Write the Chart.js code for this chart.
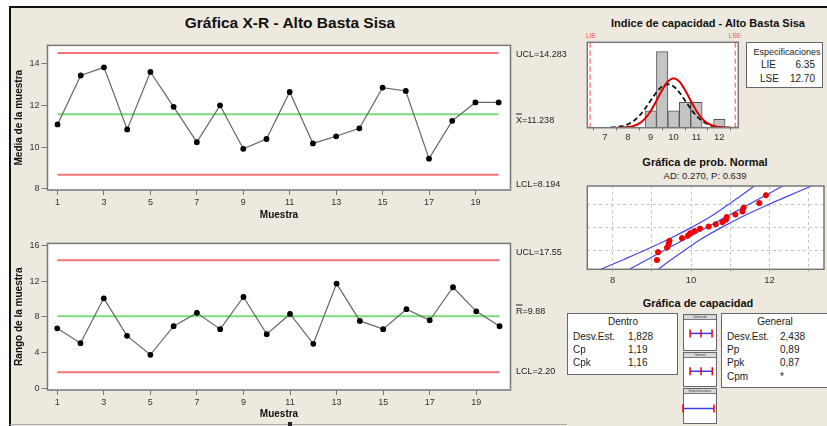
<!DOCTYPE html>
<html><head><meta charset="utf-8">
<script src="https://cdn.jsdelivr.net/npm/chart.js@4.4.1/dist/chart.umd.min.js"></script>
<style>
body{margin:0;background:#fff;width:827px;height:426px;overflow:hidden;position:relative;font-family:"Liberation Sans",Arial,sans-serif;}
#frame{position:absolute;left:9px;top:6px;width:818px;height:420px;background:#EDE9DF;border-top:2px solid #111;border-left:2px solid #111;box-sizing:border-box;}
canvas{position:absolute;}
.t{position:absolute;white-space:nowrap;color:#222;line-height:1;}
.box{position:absolute;background:#fff;border:1px solid #666;box-sizing:border-box;}
.hdr{position:absolute;left:0;top:0;right:0;height:4px;background:#d8d8d8;border-bottom:1px solid #777;font-size:3px;line-height:4px;text-align:center;color:#333;overflow:hidden;}
</style></head>
<body>
<div id="frame"></div>
<canvas id="cx" width="515" height="190" style="left:10px;top:38px"></canvas>
<canvas id="cr" width="515" height="190" style="left:10px;top:236px"></canvas>
<canvas id="ch" width="165" height="105" style="left:580px;top:40px"></canvas>
<canvas id="cp" width="247" height="106" style="left:580px;top:183px"></canvas>
<div class="box" style="left:746px;top:42px;width:77px;height:46px"></div>
<div class="box" style="left:567px;top:313px;width:111px;height:62px"></div>
<div class="box" style="left:721px;top:313px;width:110px;height:75px"></div>
<div class="box" style="left:683px;top:314px;width:34px;height:37px"><div class="hdr">Dentro de</div></div>
<div class="box" style="left:683px;top:352px;width:34px;height:35px"><div class="hdr">General</div></div>
<div class="box" style="left:683px;top:388px;width:34px;height:36px"><div class="hdr">Especificaciones</div></div>
<canvas id="m1" width="36" height="32" style="left:682px;top:319px"></canvas>
<canvas id="m2" width="36" height="30" style="left:682px;top:357px"></canvas>
<canvas id="m3" width="36" height="31" style="left:682px;top:393px"></canvas>
<div style="position:absolute;left:10px;top:424px;width:557px;height:1px;background:#aaa"></div>
<div style="position:absolute;left:288px;top:422px;width:4px;height:4px;background:#222"></div>
<script>
// ---------- data ----------
const samples = [1,2,3,4,5,6,7,8,9,10,11,12,13,14,15,16,17,18,19,20];
const sampleTicks = [1,3,5,7,9,11,13,15,17,19];
const xbarValues = [11.09,13.43,13.82,10.85,13.60,11.93,10.24,12.00,9.92,10.39,12.64,10.18,10.52,10.90,12.85,12.69,9.45,11.26,12.14,12.14];
const xbarTicks = [8,10,12,14];
const xbarLimits = [14.51, 11.58, 8.68]; // UCL, centre, LCL as drawn
const rangeValues = [6.70,5.03,10.06,5.85,3.73,6.94,8.43,6.60,10.21,6.04,8.31,4.96,11.71,7.53,6.60,8.84,7.60,11.30,8.60,6.94];
const rangeTicks = [0,4,8,12,16];
const rangeLimits = [14.32, 8.05, 1.76];

const binCenters = [9,9.5,10,10.5,11,11.5,12];
const binCounts = [2,9,2,3,3,0,1];
const histTicks = [7,8,9,10,11,12];
const specLimits = [6.35, 12.70];
const withinX = [7.5,7.75,8,8.25,8.5,8.75,9,9.25,9.5,9.75,10,10.25,10.5,10.75,11,11.25,11.5,11.75,12,12.25,12.5];
const withinY = [0,0.02,0.08,0.21,0.51,1.08,1.98,3.18,4.46,5.47,5.85,5.47,4.46,3.18,1.98,1.08,0.51,0.21,0.08,0.02,0];
const overallX = [7.25,7.5,7.75,8,8.25,8.5,8.75,9,9.25,9.5,9.75,10,10.25,10.5,10.75,11,11.25,11.5,11.75,12,12.25,12.5,12.75];
const overallY = [0.03,0.08,0.19,0.40,0.79,1.40,2.24,3.22,4.18,4.88,5.14,4.88,4.18,3.22,2.24,1.40,0.79,0.40,0.19,0.08,0.03,0.01,0];

const probValues = [9.13,9.16,9.39,9.43,9.45,9.77,9.92,9.98,10.09,10.23,10.45,10.63,10.80,10.89,10.91,11.13,11.31,11.34,11.74,11.91];
const probZ = [-1.82,-1.38,-1.12,-0.91,-0.74,-0.59,-0.45,-0.31,-0.19,-0.06,0.06,0.19,0.31,0.45,0.59,0.74,0.91,1.12,1.38,1.82];
const fitX = [8.43, 12.34];
const fitZ = [-2.34, 2.34];
const bandZ = [-2.34,-1.8,-1.28,-0.64,0,0.64,1.28,1.8,2.34];
const bandLeft = [7.70,8.27,8.81,9.44,10.00,10.51,10.94,11.28,11.61];
const bandRight = [9.16,9.49,9.83,10.26,10.77,11.33,11.96,12.50,13.07];
const probTicks = [8,9,10,11,12,13];
const probTickLabels = [8,10,12];
const probGridZ = [-1.28,0,1.28];

const withinInterval = [7.8,10.05,12.3];
const overallInterval = [7.8,10.05,12.35];

// ---------- helpers ----------
Chart.defaults.font.family = '"Liberation Sans", Arial, sans-serif';
Chart.defaults.font.size = 9;
Chart.defaults.color = '#333';
const pts = (xs, ys) => xs.map((x,i)=>({x, y: ys[i]}));
const framePlugin = {
  id:'frame',
  beforeDraw(c){const a=c.chartArea,x=c.ctx;x.save();x.fillStyle='#fff';x.fillRect(a.left,a.top,a.right-a.left,a.bottom-a.top);x.restore();},
  afterDraw(c){const a=c.chartArea,x=c.ctx;x.save();x.strokeStyle='#777';x.lineWidth=1.5;x.strokeRect(a.left,a.top,a.right-a.left,a.bottom-a.top);x.restore();}
};
const base = {animation:false,responsive:false,events:[],plugins:{legend:{display:false},tooltip:{enabled:false}}};
function hline(v,color){return {type:'line',data:[{x:1,y:v},{x:20,y:v}],borderColor:color,borderWidth:2,pointRadius:0};}
function ctrlChart(id, vals, limits, yMin, yMax, yTicks, xMin, xMax, title, padTop, xH, xTitlePad){
  new Chart(document.getElementById(id),{
    type:'line',
    data:{datasets:[
      {data:pts(samples,vals),borderColor:'#666',borderWidth:1.2,pointRadius:2.3,pointBackgroundColor:'#000',pointBorderColor:'#000',tension:0},
      hline(limits[0],'#F27575'),hline(limits[1],'#79DE79'),hline(limits[2],'#F27575')
    ]},
    options:Object.assign({},base,{
      layout:{autoPadding:false,padding:{left:0,top:padTop,right:14.5,bottom:0}},
      scales:{
        x:{type:'linear',min:xMin,max:xMax,
          afterBuildTicks:s=>{s.ticks=sampleTicks.map(v=>({value:v}));},
          afterFit:s=>{s.height=xH;},
          grid:{drawOnChartArea:false,tickLength:5,color:'#777'},border:{display:false},
          ticks:{padding:2,maxRotation:0,autoSkip:false},
          title:{display:true,text:'Muestra',font:{size:10,weight:'bold'},color:'#111',padding:{top:0,bottom:xTitlePad}}},
        y:{min:yMin,max:yMax,
          afterBuildTicks:s=>{s.ticks=yTicks.map(v=>({value:v}));},
          afterFit:s=>{s.width=37.5;},
          grid:{drawOnChartArea:false,tickLength:6,color:'#777'},border:{display:false},
          ticks:{padding:2},
          title:{display:true,text:title,font:{size:10,weight:'bold'},color:'#111',padding:{top:3,bottom:0}}}
      }
    }),
    plugins:[framePlugin]
  });
}
ctrlChart('cx', xbarValues, xbarLimits, 7.95, 14.87, xbarTicks, 0.568, 20.51, 'Media de la muestra', 7, 38, 7);
ctrlChart('cr', rangeValues, rangeLimits, -0.22, 16.22, rangeTicks, 0.583, 20.47, 'Rango de la muestra', 7.3, 36, 6);

// histogram
new Chart(document.getElementById('ch'),{
  type:'bar',
  data:{datasets:[
    {type:'line',data:pts(withinX,withinY),borderColor:'#E00000',borderWidth:2,pointRadius:0,cubicInterpolationMode:'monotone'},
    {type:'line',data:pts(overallX,overallY),borderColor:'#111',borderWidth:1.8,borderDash:[5,3],pointRadius:0,cubicInterpolationMode:'monotone'},
    {type:'line',data:[{x:specLimits[0],y:0},{x:specLimits[0],y:10.1}],borderColor:'#FF8080',borderWidth:1.5,borderDash:[5,3],pointRadius:0},
    {type:'line',data:[{x:specLimits[1],y:0},{x:specLimits[1],y:10.1}],borderColor:'#FF8080',borderWidth:1.5,borderDash:[5,3],pointRadius:0},
    {type:'bar',data:pts(binCenters,binCounts),backgroundColor:'#C4C4C4',borderColor:'#555',borderWidth:1,barPercentage:1,categoryPercentage:1}
  ]},
  options:Object.assign({},base,{
    layout:{autoPadding:false,padding:{left:7.3,top:2.3,right:6.7,bottom:0}},
    scales:{
      x:{type:'linear',min:6.226,max:12.83,offset:false,
        afterBuildTicks:s=>{s.ticks=histTicks.map(v=>({value:v}));},
        afterFit:s=>{s.height=17.3;},
        grid:{drawOnChartArea:false,tickLength:3,color:'#777'},border:{display:false},
        ticks:{padding:1,font:{size:9.5}}},
      y:{display:false,min:0,max:10.1}
    }
  }),
  plugins:[framePlugin]
});

// normal probability plot
new Chart(document.getElementById('cp'),{
  type:'line',
  data:{datasets:[
    {data:pts(probValues,probZ),showLine:false,pointRadius:2.6,pointBackgroundColor:'#F00000',pointBorderColor:'#F00000'},
    {data:pts(fitX,fitZ),borderColor:'#4848E8',borderWidth:1.2,pointRadius:0},
    {data:pts(bandLeft,bandZ),borderColor:'#4848E8',borderWidth:1.2,pointRadius:0,tension:0.35},
    {data:pts(bandRight,bandZ),borderColor:'#4848E8',borderWidth:1.2,pointRadius:0,tension:0.35}
  ]},
  options:Object.assign({},base,{
    layout:{autoPadding:false,padding:{left:7.3,top:3,right:3,bottom:0}},
    scales:{
      x:{type:'linear',min:7.355,max:13.39,
        afterBuildTicks:s=>{s.ticks=probTicks.map(v=>({value:v}));},
        afterFit:s=>{s.height=19.7;},
        grid:{drawOnChartArea:true,tickLength:3,color:'#c4c4c4'},border:{display:false,dash:[3,3]},
        ticks:{padding:2,font:{size:9.5},callback:v=>probTickLabels.includes(v)?String(v):''}},
      y:{min:-2.34,max:2.34,
        afterBuildTicks:s=>{s.ticks=probGridZ.map(v=>({value:v}));},
        afterFit:s=>{s.width=0;},
        grid:{drawOnChartArea:true,drawTicks:false,color:'#c4c4c4'},border:{display:false,dash:[3,3]},
        ticks:{display:false}}
    }
  }),
  plugins:[framePlugin]
});

// capability mini plots
function mini(id, xs, yMin, yMax){
  new Chart(document.getElementById(id),{
    type:'line',
    data:{datasets:[{data:xs.map(x=>({x,y:0})),borderColor:'#3A3AF0',borderWidth:1.5,pointStyle:'line',rotation:90,pointRadius:4,pointBorderColor:'#F00000',pointBorderWidth:1.5,clip:false}]},
    options:Object.assign({},base,{layout:{autoPadding:false,padding:0},scales:{x:{type:'linear',display:false,min:6.145,max:13.52},y:{display:false,min:yMin,max:yMax}}})
  });
}
mini('m1', withinInterval, -1.1, 0.9);
mini('m2', overallInterval, -1.05, 0.95);
mini('m3', specLimits, -1, 1);

// ---------- text ----------
function txt(s,x,y,size,o={}){
  const d=document.createElement('div');d.className='t';
  if(o.html)d.innerHTML=s;else d.textContent=s;
  d.style.left=x+'px';d.style.top=y+'px';d.style.fontSize=size+'px';
  if(o.bold)d.style.fontWeight='bold';
  if(o.color)d.style.color=o.color;
  const a=o.align||'l';
  d.style.transform=(a==='c'?'translate(-50%,-50%)':a==='r'?'translate(-100%,-50%)':'translate(0,-50%)');
  document.body.appendChild(d);
}
txt('Gráfica X-R - Alto Basta Sisa',290,23,15.5,{bold:true,align:'c',color:'#111'});
txt('UCL=14.283',516,54,9);
txt('<span style="text-decoration:overline">X</span>=11.238',516,120,9,{html:true});
txt('LCL=8.194',516,184,9);
txt('UCL=17.55',516,252,9);
txt('<span style="text-decoration:overline">R</span>=9.88',516,311,9,{html:true});
txt('LCL=2.20',516,371,9);

txt('Indice de capacidad - Alto Basta Sisa',708,23,11,{bold:true,align:'c',color:'#111'});
txt('LIE',591,36,6.5,{align:'c',color:'#F05050'});
txt('LSE',735,36,6.5,{align:'c',color:'#F05050'});
txt('Especificaciones',787,52,9,{align:'c'});
txt('LIE',761,65,10);
txt('6.35',815,65,10,{align:'r'});
txt('LSE',760,79,10);
txt('12.70',815,79,10,{align:'r'});

txt('Gráfica de prob. Normal',705,162,11,{bold:true,align:'c',color:'#111'});
txt('AD: 0.270, P: 0.639',705,176,9.5,{align:'c'});

txt('Gráfica de capacidad',698,303,11,{bold:true,align:'c',color:'#111'});
txt('Dentro',623,322,10,{align:'c'});
txt('Desv.Est.',573,337,10);txt('1,828',628,337,10);
txt('Cp',573,350,10);txt('1,19',628,350,10);
txt('Cpk',573,363,10);txt('1,16',628,363,10);
txt('General',775,322,10,{align:'c'});
txt('Desv.Est.',727,337,10);txt('2,438',780,337,10);
txt('Pp',727,350,10);txt('0,89',780,350,10);
txt('Ppk',727,363,10);txt('0,87',780,363,10);
txt('Cpm',727,377,10);txt('*',780,377,10);
</script>
</body></html>
